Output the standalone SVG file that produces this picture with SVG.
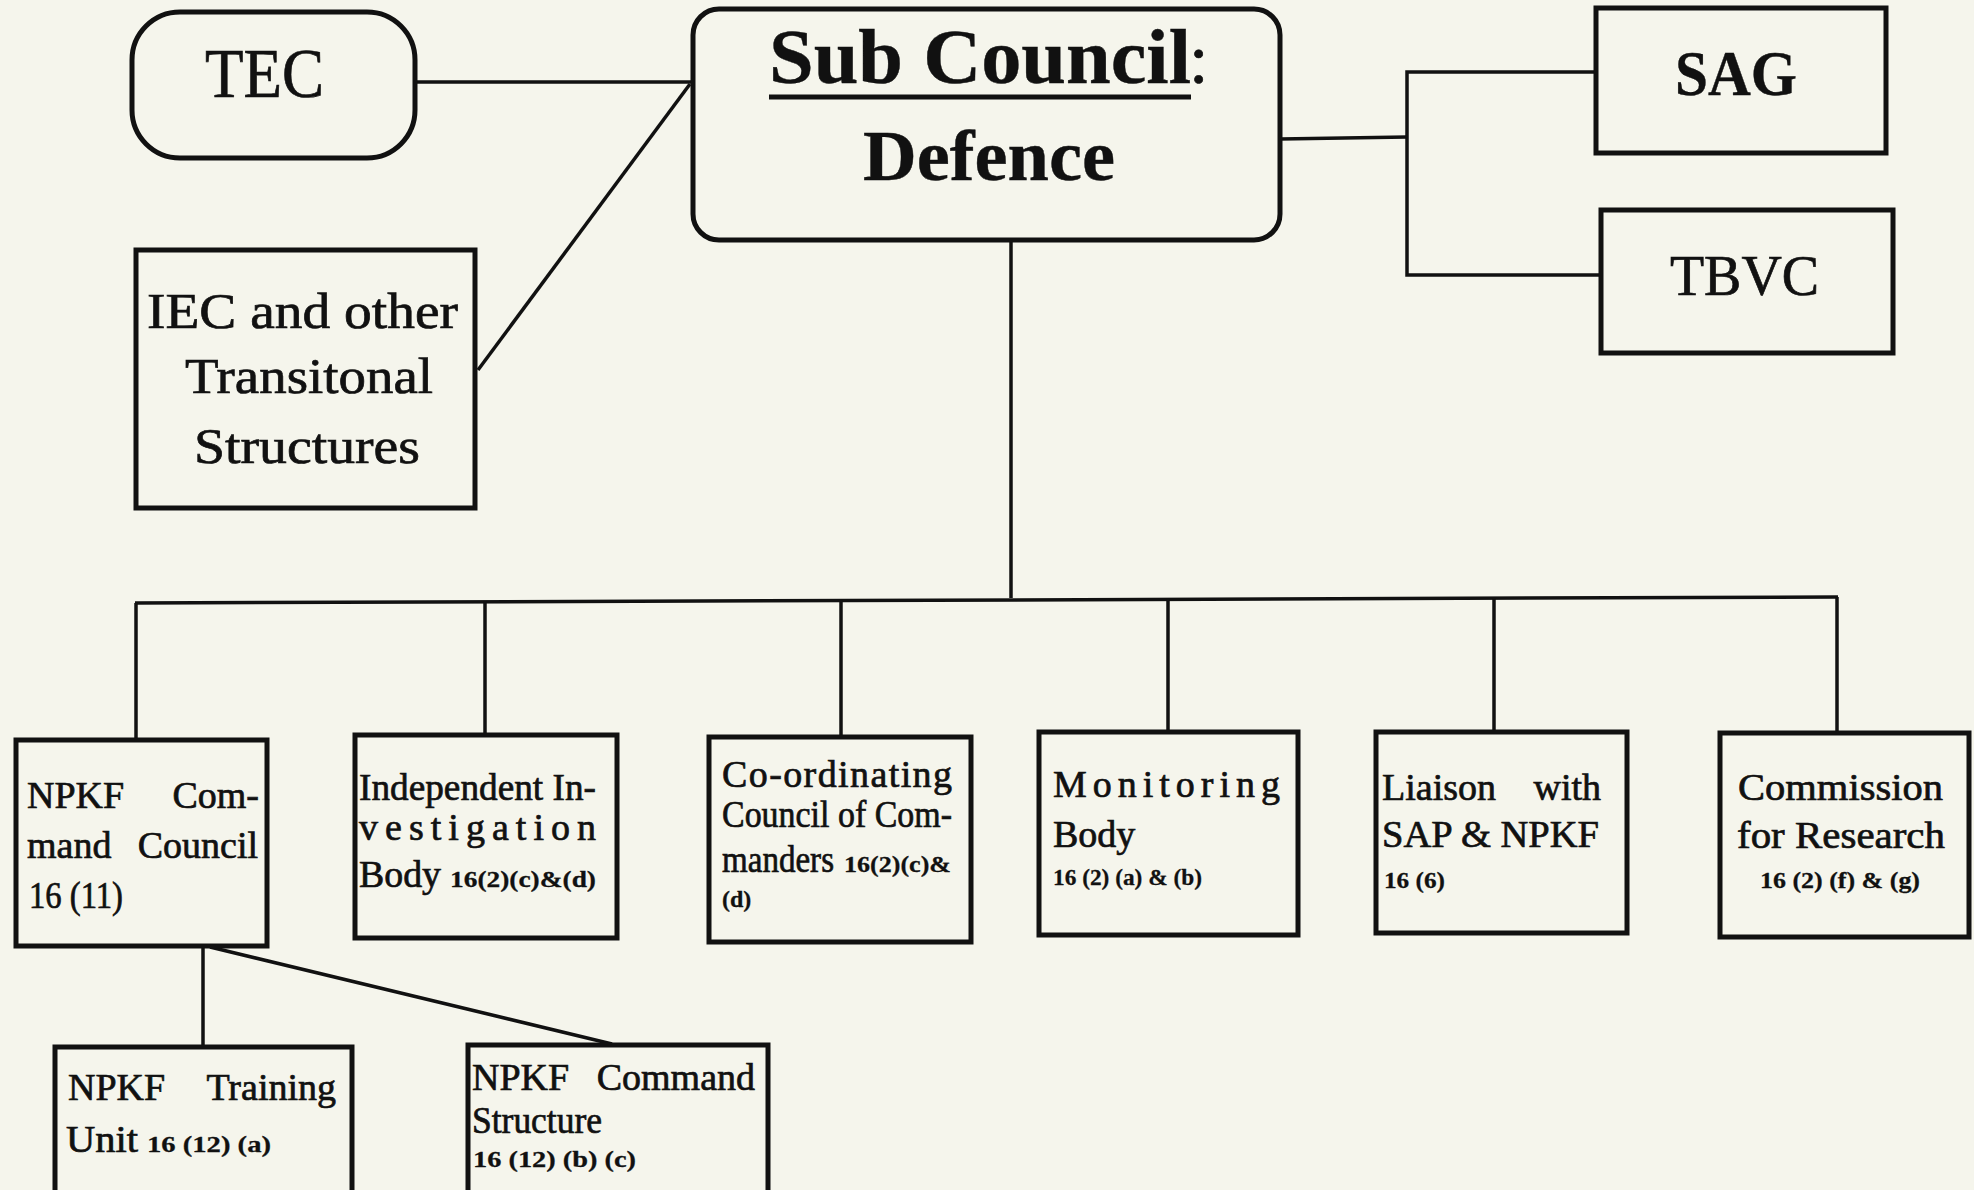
<svg xmlns="http://www.w3.org/2000/svg" width="1974" height="1190" viewBox="0 0 1974 1190">
<style>
.box{fill:#f5f5ec;stroke:#111;stroke-width:5}
.ln{stroke:#111;stroke-width:3.5;fill:none}
.t{font-family:"Liberation Serif","Times New Roman",serif;fill:#111;stroke:#111;stroke-width:0.7}
.b{font-weight:bold;stroke-width:0.4}
.m{font-size:38px}
.s{font-size:24px;font-weight:bold;stroke-width:0.3}
</style>
<rect width="1974" height="1190" fill="#f5f5ec"/>
<g id="connectors">
<line class="ln" x1="415" y1="82" x2="693" y2="82"/>
<line class="ln" x1="690" y1="84" x2="478" y2="370"/>
<polyline class="ln" points="1280,139 1407,137"/>
<polyline class="ln" points="1594,72 1407,72 1407,275 1600,275"/>
<line class="ln" x1="1011" y1="240" x2="1011" y2="598"/>
<line class="ln" x1="135" y1="603" x2="1838" y2="597"/>
<line class="ln" x1="136" y1="603" x2="136" y2="740"/>
<line class="ln" x1="485" y1="601" x2="485" y2="735"/>
<line class="ln" x1="841" y1="600" x2="841" y2="736"/>
<line class="ln" x1="1168" y1="599" x2="1168" y2="732"/>
<line class="ln" x1="1494" y1="598" x2="1494" y2="732"/>
<line class="ln" x1="1837" y1="597" x2="1837" y2="733"/>
<line class="ln" x1="203" y1="947" x2="203" y2="1047"/>
<line class="ln" x1="210" y1="947" x2="612" y2="1044"/>
</g>
<g id="tec">
<rect class="box" x="132" y="12" width="283" height="146" rx="48"/>
<text class="t" x="205" y="97" font-size="70" textLength="119" lengthAdjust="spacingAndGlyphs">TEC</text>
</g>
<g id="iec">
<rect class="box" x="136" y="250" width="339" height="258"/>
<text class="t" x="147" y="328" font-size="50" textLength="311" lengthAdjust="spacingAndGlyphs">IEC and other</text>
<text class="t" x="185" y="393" font-size="50" textLength="248" lengthAdjust="spacingAndGlyphs">Transitonal</text>
<text class="t" x="194" y="463" font-size="50" textLength="226" lengthAdjust="spacingAndGlyphs">Structures</text>
</g>
<g id="subcouncil">
<rect class="box" x="693" y="9" width="587" height="231" rx="26"/>
<text class="t b" x="769" y="83" font-size="78" textLength="422" lengthAdjust="spacingAndGlyphs">Sub Council</text>
<text class="t" x="1189" y="83" font-size="70">:</text>
<line x1="769" y1="97" x2="1191" y2="97" stroke="#111" stroke-width="5"/>
<text class="t b" x="863" y="180" font-size="72" textLength="252" lengthAdjust="spacingAndGlyphs">Defence</text>
</g>
<g id="sag">
<rect class="box" x="1596" y="8" width="290" height="145"/>
<text class="t b" x="1675" y="95" font-size="64" textLength="122" lengthAdjust="spacingAndGlyphs">SAG</text>
</g>
<g id="tbvc">
<rect class="box" x="1601" y="210" width="292" height="143"/>
<text class="t" x="1670" y="295" font-size="56" textLength="149" lengthAdjust="spacingAndGlyphs">TBVC</text>
</g>
<g id="npkf-command-council">
<rect class="box" x="16" y="740" width="251" height="206"/>
<text class="t m" x="27" y="808">NPKF</text>
<text class="t m" x="259" y="808" text-anchor="end">Com-</text>
<text class="t m" x="27" y="858">mand</text>
<text class="t m" x="258" y="858" text-anchor="end">Council</text>
<text class="t m" x="29" y="908" textLength="94" lengthAdjust="spacingAndGlyphs">16 (11)</text>
</g>
<g id="independent-investigation">
<rect class="box" x="355" y="735" width="262" height="203"/>
<text class="t m" x="359" y="800" textLength="237" lengthAdjust="spacingAndGlyphs">Independent In-</text>
<text class="t m" x="359" y="840" textLength="237" lengthAdjust="spacing">vestigation</text>
<text class="t m" x="359" y="887" textLength="82" lengthAdjust="spacingAndGlyphs">Body</text>
<text class="t s" x="450" y="887" textLength="146" lengthAdjust="spacingAndGlyphs">16(2)(c)&amp;(d)</text>
</g>
<g id="coordinating-council">
<rect class="box" x="709" y="737" width="262" height="205"/>
<text class="t m" x="722" y="787" textLength="230" lengthAdjust="spacing">Co-ordinating</text>
<text class="t m" x="722" y="827" textLength="230" lengthAdjust="spacingAndGlyphs">Council of Com-</text>
<text class="t m" x="722" y="872" textLength="112" lengthAdjust="spacingAndGlyphs">manders</text>
<text class="t s" x="844" y="872" textLength="107" lengthAdjust="spacingAndGlyphs">16(2)(c)&amp;</text>
<text class="t s" x="722" y="907">(d)</text>
</g>
<g id="monitoring-body">
<rect class="box" x="1039" y="732" width="259" height="203"/>
<text class="t m" x="1053" y="797" textLength="227" lengthAdjust="spacing">Monitoring</text>
<text class="t m" x="1053" y="847">Body</text>
<text class="t s" x="1053" y="885" textLength="149" lengthAdjust="spacingAndGlyphs">16 (2) (a) &amp; (b)</text>
</g>
<g id="liaison">
<rect class="box" x="1376" y="732" width="251" height="201"/>
<text class="t m" x="1382" y="800">Liaison</text>
<text class="t m" x="1601" y="800" text-anchor="end">with</text>
<text class="t m" x="1382" y="847" textLength="217" lengthAdjust="spacingAndGlyphs">SAP &amp; NPKF</text>
<text class="t s" x="1384" y="888" textLength="61" lengthAdjust="spacingAndGlyphs">16 (6)</text>
</g>
<g id="commission-research">
<rect class="box" x="1720" y="733" width="249" height="204"/>
<text class="t m" x="1738" y="800" textLength="205" lengthAdjust="spacingAndGlyphs">Commission</text>
<text class="t m" x="1737" y="848" textLength="208" lengthAdjust="spacingAndGlyphs">for Research</text>
<text class="t s" x="1760" y="888" textLength="160" lengthAdjust="spacingAndGlyphs">16 (2) (f) &amp; (g)</text>
</g>
<g id="npkf-training-unit">
<rect class="box" x="55" y="1047" width="297" height="150"/>
<text class="t m" x="68" y="1100">NPKF</text>
<text class="t m" x="336" y="1100" text-anchor="end">Training</text>
<text class="t m" x="66" y="1152" textLength="72" lengthAdjust="spacingAndGlyphs">Unit</text>
<text class="t s" x="147" y="1152" textLength="124" lengthAdjust="spacingAndGlyphs">16 (12) (a)</text>
</g>
<g id="npkf-command-structure">
<rect class="box" x="468" y="1045" width="300" height="152"/>
<text class="t m" x="472" y="1090">NPKF</text>
<text class="t m" x="755" y="1090" text-anchor="end">Command</text>
<text class="t m" x="472" y="1133" textLength="130" lengthAdjust="spacingAndGlyphs">Structure</text>
<text class="t s" x="473" y="1167" textLength="163" lengthAdjust="spacingAndGlyphs">16 (12) (b) (c)</text>
</g>
</svg>
